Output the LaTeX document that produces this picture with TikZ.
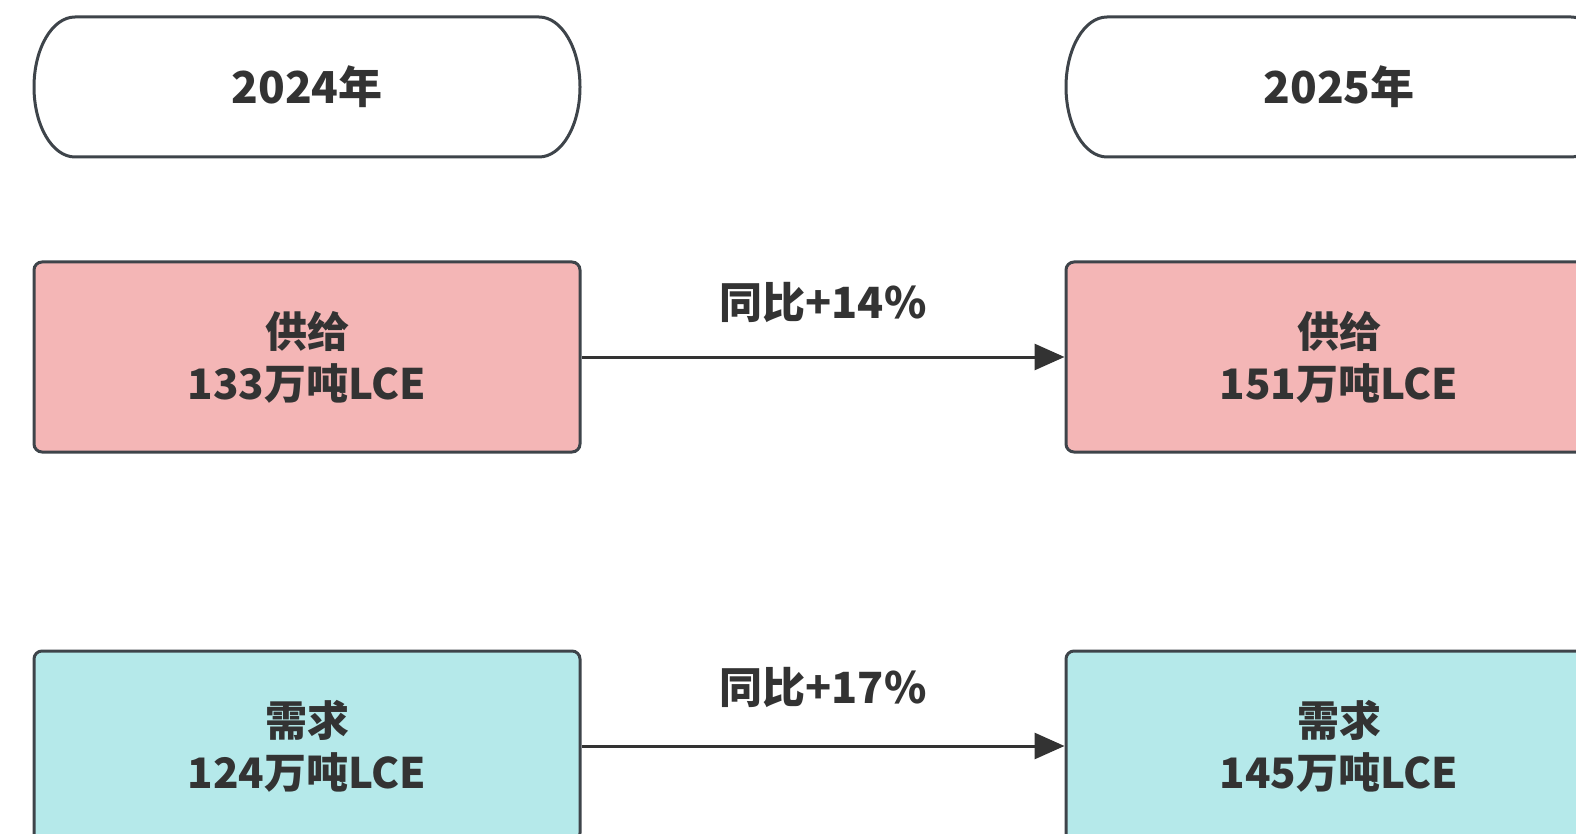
\documentclass[tikz,border=0pt]{standalone}
\usepackage{fontspec}
\usetikzlibrary{arrows.meta}
\newfontfamily\cjk{Noto Sans CJK SC}
\definecolor{edgec}{HTML}{3E444A}
\definecolor{txt}{HTML}{333333}
\definecolor{supply}{HTML}{F4B6B6}
\definecolor{demand}{HTML}{B5E9EA}
\tikzset{
  base/.style={draw=edgec, line width=3pt, text=txt, align=center,
    font=\cjk\bfseries\fontsize{42}{52}\selectfont, inner sep=0pt},
  pill/.style={text=txt, font=\cjk\bfseries\fontsize{44}{52}\selectfont, inner sep=0pt,
    outer sep=0pt, minimum width=546pt, minimum height=140pt},
  pillline/.style={draw=edgec, line width=3pt, fill=white},
  supplybox/.style={base, fill=supply, minimum width=546pt, minimum height=190pt, rounded corners=8pt},
  demandbox/.style={base, fill=demand, minimum width=546pt, minimum height=190pt, rounded corners=8pt},
  conn/.style={draw=txt, line width=3pt, -{Triangle[length=30pt,width=26pt]}},
  lbl/.style={text=txt, font=\cjk\bfseries\fontsize{43}{52}\selectfont, inner sep=0pt}
}
\newcommand\pillpath[1]{%
  \path[pillline] ([xshift=41pt]#1.north west) -- ([xshift=-41pt]#1.north east)
    arc[start angle=90, end angle=-90, x radius=41pt, y radius=70pt]
    -- ([xshift=41pt]#1.south west)
    arc[start angle=270, end angle=90, x radius=41pt, y radius=70pt] -- cycle;}
\begin{document}
\begin{tikzpicture}[x=1pt,y=-1pt]
\useasboundingbox (0,0) rectangle (1576,834);
\clip (0,0) rectangle (1576,834);
\node[pill] (y1) at (307,87) {};
\node[pill] (y2) at (1339,87) {};
\pillpath{y1}
\pillpath{y2}
\node[pill] at (y1.center) {2024年};
\node[pill] at (y2.center) {2025年};
\node[supplybox] (s1) at (307,357) {供给\\133万吨LCE};
\node[supplybox] (s2) at (1339,357) {供给\\151万吨LCE};
\node[demandbox] (d1) at (307,746) {需求\\124万吨LCE};
\node[demandbox] (d2) at (1339,746) {需求\\145万吨LCE};
\draw[conn] (s1) -- (s2) node[lbl, midway, yshift=54pt] (l1) {同比+14\%};
\draw[conn] (d1) -- (d2) node[lbl, midway, yshift=59pt] (l2) {同比+17\%};
\end{tikzpicture}
\end{document}
